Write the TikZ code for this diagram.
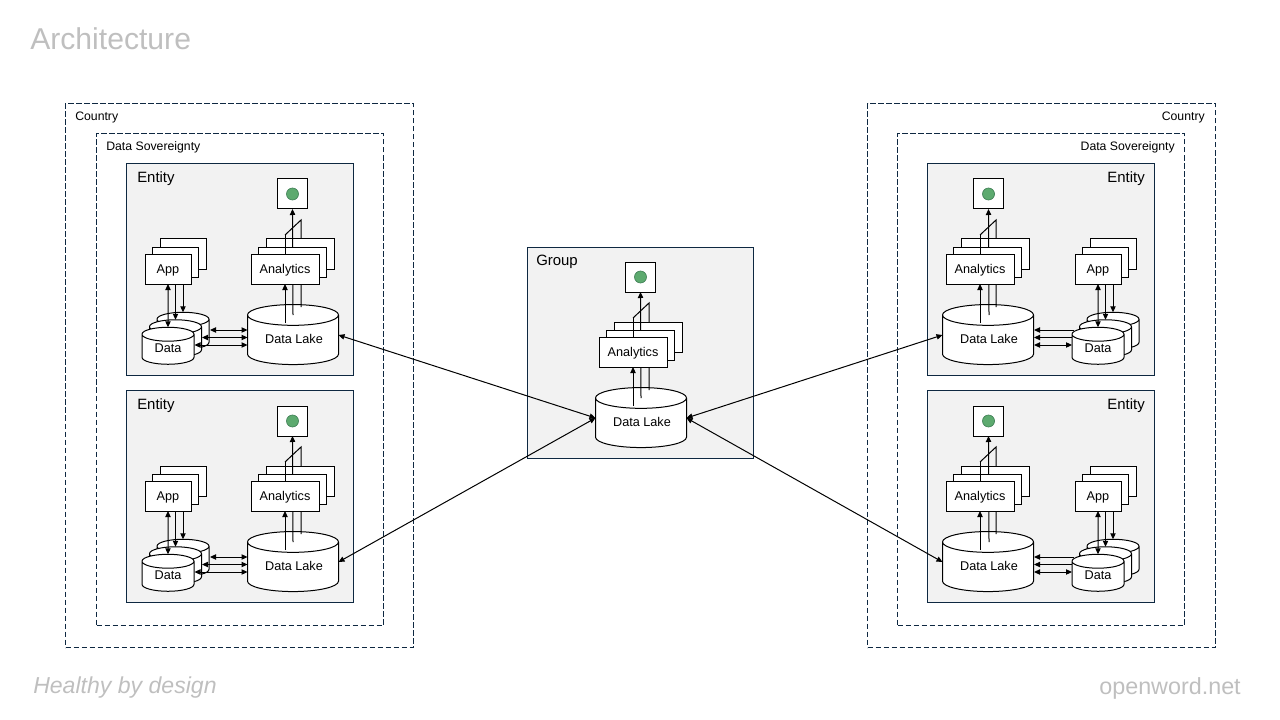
\documentclass[tikz,border=0pt]{standalone}
\usepackage{fontspec}
\setmainfont{Liberation Sans}
\usetikzlibrary{arrows.meta,shapes.geometric,calc}
\definecolor{navy}{HTML}{0E2841}
\definecolor{panelfill}{HTML}{F2F2F2}
\definecolor{softgray}{HTML}{BFBFBF}
\definecolor{dotgreen}{HTML}{5DAA6F}
\definecolor{dotedge}{HTML}{3F7F55}
\tikzset{
  link/.style={line width=.75pt,black},
  oneway/.style={link,-{Triangle[length=4.5pt,width=4pt]}},
  twoway/.style={link,{Triangle[length=4.5pt,width=4pt]}-{Triangle[length=4.5pt,width=4pt]}},
  zone/.style={draw=navy,line width=.75pt,dash pattern=on 4pt off 2pt,inner sep=0pt,outer sep=0pt},
  panel/.style={draw=navy,fill=panelfill,line width=.75pt,inner sep=0pt,outer sep=0pt},
  card/.style={draw=black,fill=white,line width=.75pt,inner sep=0pt,outer sep=0pt,minimum height=22.5pt,text height=7.5pt,text depth=1.5pt,font=\fontsize{9.5}{11}\selectfont},
  appcard/.style={card,minimum width=34.5pt},
  anacard/.style={card,minimum width=51pt},
  drum/.style={cylinder,shape border rotate=90,draw=black,fill=white,line width=.75pt,inner sep=0pt,outer sep=0pt,font=\fontsize{9.5}{11}\selectfont},
  datadrum/.style={drum,aspect=.52,minimum width=39pt,minimum height=27.75pt},
  lakedrum/.style={drum,aspect=.36,minimum width=68.25pt,minimum height=45pt},
  outbox/.style={draw=black,fill=white,line width=.75pt,inner sep=0pt,outer sep=0pt,minimum size=22.5pt},
  dot/.style={circle,draw=dotedge,fill=dotgreen,line width=.5pt,inner sep=0pt,minimum size=9pt},
  tag/.style={inner sep=0pt,font=\fontsize{9.2}{11}\selectfont},
  drumtag/.style={inner sep=0pt,font=\fontsize{9.5}{11}\selectfont},
  paneltag/.style={inner sep=0pt,font=\fontsize{11.2}{13}\selectfont},
}
% Data lake, analytics stack and output marker, placed by offset from the upper-left entity;
% the fourth argument nudges the output marker sideways
\newcommand\lakecolumn[4]{%
  \begin{scope}[shift={(#2,#3)}]
    \node[outbox] (#1out) at (292.5+#4,194) {};
    \node[dot] (#1dot) at (#1out.center) {};
    \node[lakedrum] (#1lake) at (293,340) {\phantom{Data Lake}};
    \node[drumtag] (#1laketag) at (294,339) {Data Lake};
    \coordinate (#1portW) at (247.5,335);
    \coordinate (#1portE) at (338.5,335);
    \coordinate (#1a) at (285,323);
    \coordinate (#1b) at (293+#4,315);
    \coordinate (#1c) at (301,307);
    \coordinate (#1ctop) at (301,220);
    \coordinate (#1cbend) at (285,235);
    \draw[link] (#1c) -- (#1ctop) -- (#1cbend);
    \node[anacard] (#1anaB) at (300.5,254) {};
    \draw[oneway] (#1b) -- (#1out.south);
    \node[anacard] (#1anaM) at (292.5,262) {};
    \node[anacard] (#1anaF) at (285,269) {Analytics};
    \draw[link] (#1cbend) -- (#1anaF.north);
    \draw[oneway] (#1a) -- (#1anaF.south);
  \end{scope}}
% App stack with its three data stores, placed by offset
\newcommand\appcolumn[3]{%
  \begin{scope}[shift={(#2,#3)}]
    \node[appcard] (#1appB) at (183,254) {};
    \node[appcard] (#1appM) at (175.5,262) {};
    \node[appcard] (#1appF) at (168,269) {App};
    \node[datadrum] (#1dataB) at (183,334.5) {\phantom{Data}};
    \node[datadrum] (#1dataM) at (175.5,342) {\phantom{Data}};
    \node[datadrum] (#1dataF) at (168,349.5) {\phantom{Data}};
    \node[drumtag] (#1datatag) at (168,348) {Data};
    \draw[twoway] (#1appF.south) -- (#1dataF.north);
    \draw[oneway] (#1appF.south -| #1dataM.north) -- (#1dataM.north);
    \draw[oneway] (#1appF.south -| #1dataB.north) -- (#1dataB.north);
  \end{scope}}
\begin{document}
\begin{tikzpicture}[x=.75pt,y=-.75pt]
  \useasboundingbox (0,0) rectangle (1280,720);

  \node[anchor=west,inner sep=0pt,text=softgray,font=\fontsize{22.6}{26}\selectfont] (title) at (30,39) {Architecture};
  \node[anchor=west,inner sep=0pt,text=softgray,font=\fontsize{17.3}{20}\selectfont\itshape] (motto) at (33,688) {Healthy by design};
  \node[anchor=east,inner sep=0pt,text=softgray,font=\fontsize{17.5}{20}\selectfont] (site) at (1241,688) {openword.net};

  % Country and sovereignty boundaries
  \node[zone,minimum width=261pt,minimum height=408pt] (countryL) at (239.5,375.5) {};
  \node[zone,minimum width=215.25pt,minimum height=369pt] (sovL) at (240,379.5) {};
  \node[zone,minimum width=261pt,minimum height=408pt] (countryR) at (1041.5,375.5) {};
  \node[zone,minimum width=215.25pt,minimum height=369pt] (sovR) at (1041,379.5) {};
  \node[tag,anchor=west] (countryLtag) at (75,117) {Country};
  \node[tag,anchor=west] (sovLtag) at (106,147) {Data Sovereignty};
  \node[tag,anchor=east] (countryRtag) at (1205,117) {Country};
  \node[tag,anchor=east] (sovRtag) at (1175,147) {Data Sovereignty};

  % Entity and group panels
  \node[panel,minimum width=170.25pt,minimum height=159pt] (pA) at (240,269.5) {};
  \node[panel,minimum width=170.25pt,minimum height=159pt] (pB) at (240,496.5) {};
  \node[panel,minimum width=170.25pt,minimum height=159pt] (pC) at (1041,269.5) {};
  \node[panel,minimum width=170.25pt,minimum height=159pt] (pD) at (1041,496.5) {};
  \node[panel,minimum width=169.5pt,minimum height=158.25pt] (pG) at (640.5,353) {};
  \node[paneltag,anchor=west] (tagA) at (137,179) {Entity};
  \node[paneltag,anchor=west] (tagB) at (137,406) {Entity};
  \node[paneltag,anchor=east] (tagC) at (1145,179) {Entity};
  \node[paneltag,anchor=east] (tagD) at (1145,406) {Entity};
  \node[paneltag,anchor=west] (tagG) at (536,262) {Group};

  % Left side entities
  \lakecolumn{A}{0}{0}{0}
  \appcolumn{A}{0}{0}
  \lakecolumn{B}{0}{227}{0}
  \appcolumn{B}{0}{227}
  % Right side entities
  \lakecolumn{C}{695}{0}{1}
  \appcolumn{C}{930}{0}
  \lakecolumn{D}{695}{227}{1}
  \appcolumn{D}{930}{227}
  % Group
  \lakecolumn{G}{348}{83}{0}

  % Links between data stores and lakes, left side
  \foreach \p/\q in {A/0,B/227}{
    \begin{scope}[shift={(0,\q)}]
      \coordinate (\p sa) at (210,330); \coordinate (\p la) at (247.5,330);
      \coordinate (\p sb) at (202,337.5); \coordinate (\p lb) at (247.5,337.5);
      \coordinate (\p sc) at (194.5,345); \coordinate (\p lc) at (247.5,345);
      \draw[twoway] (\p sa) -- (\p la);
      \draw[twoway] (\p sb) -- (\p lb);
      \draw[twoway] (\p sc) -- (\p lc);
    \end{scope}}
  % Links between data stores and lakes, right side
  \foreach \p/\q in {C/0,D/227}{
    \begin{scope}[shift={(0,\q)}]
      \coordinate (\p sa) at (1074,330); \coordinate (\p la) at (1034,330);
      \coordinate (\p sb) at (1072,337.5); \coordinate (\p lb) at (1034,337.5);
      \coordinate (\p sc) at (1072,345); \coordinate (\p lc) at (1034,345);
      \draw[oneway] (\p sa) -- (\p la);
      \draw[oneway] (\p sb) -- (\p lb);
      \draw[twoway] (\p sc) -- (\p lc);
    \end{scope}}

  % Links from each entity lake to the group lake
  \draw[twoway] (AportE) -- (GportW);
  \draw[twoway] (BportE) -- (GportW);
  \draw[twoway] (CportW) -- (GportE);
  \draw[twoway] (DportW) -- (GportE);
\end{tikzpicture}
\end{document}
